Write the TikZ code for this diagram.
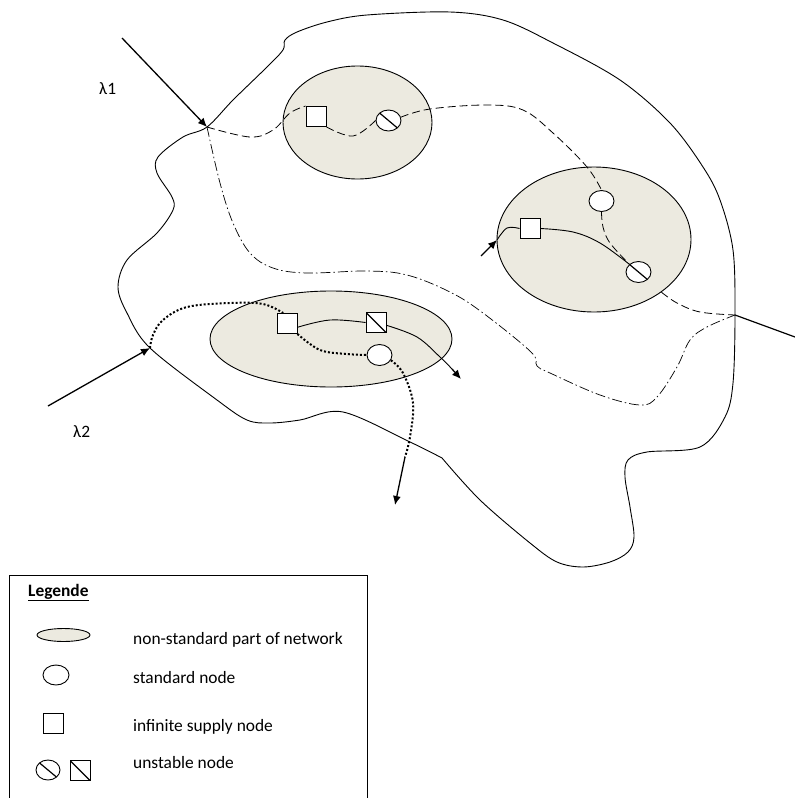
\documentclass[tikz,border=0pt]{standalone}
\usepackage{fontspec}
\setmainfont{Carlito}
\usetikzlibrary{shapes.geometric,arrows.meta}
\definecolor{beige}{RGB}{236,234,224}
\tikzset{
  region/.style={draw, line width=0.9pt, fill=beige, ellipse, inner sep=0pt},
  snode/.style={draw, line width=0.9pt, fill=white, ellipse, inner sep=0pt, minimum width=25pt, minimum height=21pt},
  sqnode/.style={draw, line width=0.9pt, fill=white, rectangle, inner sep=0pt, minimum width=20pt, minimum height=20pt},
  slash/.style={path picture={\draw[line width=1.2pt] (path picture bounding box.north west) -- (path picture bounding box.south east);}},
  outline/.style={line width=0.9pt},
  dashedline/.style={line width=0.8pt, dash pattern=on 8pt off 4pt},
  dashdot/.style={line width=0.7pt, dash pattern=on 10pt off 3pt on 1.5pt off 3pt},
  dotline/.style={line width=2pt, dash pattern=on 2pt off 2pt},
  flow/.style={line width=0.9pt},
  arr/.style={line width=1.3pt, -{Latex[length=9pt,width=8pt]}},
  lbl/.style={font=\fontsize{17.4}{20}\selectfont, inner sep=0pt, anchor=base west}
}
\begin{document}
\begin{tikzpicture}[x=1pt,y=-1pt]
\useasboundingbox (0,0) rectangle (795,798);

% outer boundary
\draw[outline] plot[smooth, tension=0.55] coordinates {
 (442,458) (410,442) (343,412) (300,420) (270,423) (247,420) (217,400) (150,348)
 (127,313) (118,287) (127,260) (157,233) (173,210) (172,197) (157,173) (158,157)
 (183,137) (207,127) (233,100) (267,67) (283,50) (285,40) (297,32) (327,22)
 (367,15) (450,12) (503,20) (553,43) (620,80) (670,123) (703,167) (720,200)
 (733,250) (735,315) (733,383) (725,417) (700,447) (647,452) (628,460) (625,477)
 (630,507) (634,537) (628,552) (610,562) (583,567) (557,562) (530,543) (480,500) (442,458)};

% regions
\node[region, minimum width=149pt, minimum height=113pt] (EA) at (357.5,122.5) {};
\node[region, minimum width=194pt, minimum height=145pt] (EB) at (594,239.5) {};
\node[region, minimum width=242pt, minimum height=96pt] (EC) at (331,339) {};

% entry / exit points
\coordinate (p1) at (207,127);
\coordinate (p2) at (150,348);
\coordinate (pr) at (735,315);
\coordinate (l1s) at (122,38);
\coordinate (l2s) at (48,406);
\coordinate (rout) at (795,337);
\coordinate (ebs) at (481,256);
\coordinate (ebe) at (497,240);
\coordinate (q) at (405,457);
\coordinate (qe) at (395,505);
\coordinate (ze) at (461,379);

% nodes
\node[sqnode] (A1) at (316,116.5) {};
\node[snode, slash] (S1) at (388.5,120.5) {};
\node[snode] (C2) at (601.5,201) {};
\node[sqnode] (B1) at (530,228.5) {};
\node[snode, slash] (S2) at (638.5,272) {};
\node[sqnode] (Q1) at (287,323.5) {};
\node[sqnode, slash] (Z1) at (376,322.5) {};
\node[snode] (C3) at (379.5,355) {};

% dash-dot route
\draw[dashdot] plot[smooth, tension=0.6] coordinates {
 (p1) (220,183) (233,223) (250,253) (273,268) (307,273) (367,271) (407,275)
 (450,292) (483,313) (531,352) (537,366) (550,373) (600,395) (640,405) (657,397)
 (677,367) (690,340) (707,327) (pr)};

% dashed route
\draw[dashedline] plot[smooth, tension=0.6] coordinates {
 (p1) (250,137) (273,130) (290,113) (A1.north west)};
\draw[dashedline] plot[smooth, tension=0.6] coordinates {
 (A1.south east) (353,136) (S1.west)};
\draw[dashedline] plot[smooth, tension=0.6] coordinates {
 (S1.15) (430,109) (487,105) (523,110) (553,133) (587,167) (C2.north)};
\draw[dashedline] plot[smooth, tension=0.6] coordinates {
 (C2.south) (603,227) (610,243) (S2.north west)};
\draw[dashedline] plot[smooth, tension=0.6] coordinates {
 (EB.-38) (677,303) (700,312) (pr)};

% dotted route
\draw[dotline] plot[smooth, tension=0.6] coordinates {
 (p2) (153,335) (163,320) (187,307) (230,303) (263,304) (Q1.110)};
\draw[dotline] plot[smooth, tension=0.6] coordinates {
 (Q1.south east) (320,350) (347,354) (C3.west)};
\draw[dotline] plot[smooth, tension=0.6] coordinates {
 (C3.-25) (403,373) (413,403) (410,437) (q)};
\draw[arr] (q) -- (qe);

% solid flows
\draw[flow] plot[smooth, tension=0.6] coordinates {
 (Q1.-20) (330,320) (Z1.west)};
\draw[flow] plot[smooth, tension=0.6] coordinates {
 (Z1.-15) (417,337) (440,357) (452,369)};
\draw[arr] (452,369) -- (ze);
\draw[flow] plot[smooth, tension=0.6] coordinates {
 (ebe) (507,228) (B1.west)};
\draw[flow] plot[smooth, tension=0.6] coordinates {
 (B1.east) (573,232) (600,243) (S2.north west)};

% arrows
\draw[arr] (l1s) -- (p1);
\draw[arr] (l2s) -- (p2);
\draw[arr] (ebs) -- (ebe);
\draw[line width=1.2pt] (pr) -- (rout);

\node[lbl] (L1) at (99,94) {λ1};
\node[lbl] (L2) at (73,437) {λ2};

% legend
\draw[line width=0.9pt] (9,800) -- (9,575) -- (367,575) -- (367,800);
\node[lbl] (LT) at (28,596) {\underline{\textbf{Legende}}};
\node[region, minimum width=53pt, minimum height=13pt] (LE) at (63.5,635) {};
\node[snode, minimum width=26pt, minimum height=20pt] (LC) at (56,675) {};
\node[sqnode] (LS) at (53,723) {};
\node[snode, slash, minimum width=24pt, minimum height=20pt] (LU1) at (48,770) {};
\node[sqnode, slash] (LU2) at (80,770.5) {};
\node[lbl] at (133,644) {non-standard part of network};
\node[lbl] at (133,683) {standard node};
\node[lbl] at (133,731) {infinite supply node};
\node[lbl] at (133,768) {unstable node};
\end{tikzpicture}
\end{document}
